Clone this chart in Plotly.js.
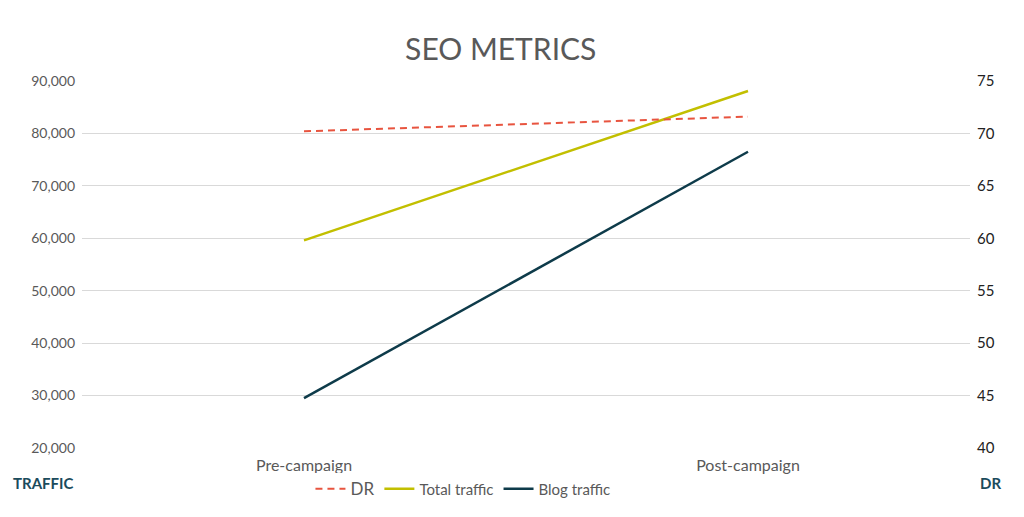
<!DOCTYPE html>
<html>
<head>
<meta charset="utf-8">
<script src="https://cdn.plot.ly/plotly-3.0.1.min.js"></script>
<style>
  html, body { margin: 0; padding: 0; background: #fff; }
  #chart { width: 1024px; height: 517px; }
</style>
</head>
<body>
<div id="chart"></div>
<script>
var phases = ['Pre-campaign', 'Post-campaign'];
var dr = [70.2, 71.6];
var totalTraffic = [59600, 88100];
var blogTraffic = [29500, 76500];

var trafficTicks = [20000, 30000, 40000, 50000, 60000, 70000, 80000, 90000];
var drTicks = [40, 45, 50, 55, 60, 65, 70, 75];

var sideFont = 'Lato, sans-serif';

var traces = [
  {
    x: phases, y: dr, yaxis: 'y2', type: 'scatter', mode: 'lines',
    name: '<span style="font-size:17px">DR</span>',
    line: { color: '#e8543f', width: 2, dash: '7px,5px' }
  },
  {
    x: phases, y: totalTraffic, type: 'scatter', mode: 'lines',
    name: 'Total traffic',
    line: { color: '#c2bf00', width: 2.5 }
  },
  {
    x: phases, y: blogTraffic, type: 'scatter', mode: 'lines',
    name: 'Blog traffic',
    line: { color: '#0e3b4a', width: 2.5 }
  }
];

var layout = {
  width: 1024, height: 517,
  margin: { l: 82, r: 54, t: 81, b: 68 },
  paper_bgcolor: '#fff', plot_bgcolor: '#fff',
  font: { family: 'Lato, sans-serif', color: '#595959' },
  title: {
    text: 'SEO METRICS',
    font: { family: 'Lato, sans-serif', size: 30, color: '#595959' },
    x: 0.489, xanchor: 'center', y: 0.905, yanchor: 'middle'
  },
  showlegend: true,
  legend: {
    orientation: 'h', x: 0.429, xanchor: 'center', y: -0.109, yanchor: 'middle',
    font: { family: sideFont, size: 15, color: '#595959' },
    itemwidth: 30, tracegroupgap: 0
  },
  xaxis: {
    type: 'category', range: [-0.5, 1.5],
    showgrid: false, zeroline: false, showline: false, ticks: '',
    ticklabelstandoff: 6,
    tickfont: { family: sideFont, size: 16, color: '#595959' }
  },
  yaxis: {
    range: [20000, 90000], tickvals: trafficTicks,
    tickformat: ',d',
    showgrid: true, gridcolor: '#d9d9d9', gridwidth: 1,
    zeroline: false, showline: false, ticks: '',
    ticklabelstandoff: 6,
    tickfont: { family: 'Lato, sans-serif', size: 14, color: '#595959' }
  },
  yaxis2: {
    overlaying: 'y', side: 'right',
    range: [40, 75], tickvals: drTicks,
    showgrid: false, zeroline: false, showline: false, ticks: '',
    ticklabelstandoff: 6,
    tickfont: { family: 'Lato, sans-serif', size: 15, color: '#222' }
  },
  annotations: [
    {
      xref: 'paper', yref: 'paper', x: -0.08, y: -0.095, xanchor: 'left', yanchor: 'middle',
      text: '<b>TRAFFIC</b>', showarrow: false,
      font: { family: 'Lato, sans-serif', size: 15, color: '#1b4b5c' }
    },
    {
      xref: 'paper', yref: 'paper', x: 1.037, y: -0.095, xanchor: 'right', yanchor: 'middle',
      text: '<b>DR</b>', showarrow: false,
      font: { family: 'Lato, sans-serif', size: 15, color: '#1b4b5c' }
    }
  ]
};

Plotly.newPlot('chart', traces, layout, { displayModeBar: false, staticPlot: true });
</script>
</body>
</html>
